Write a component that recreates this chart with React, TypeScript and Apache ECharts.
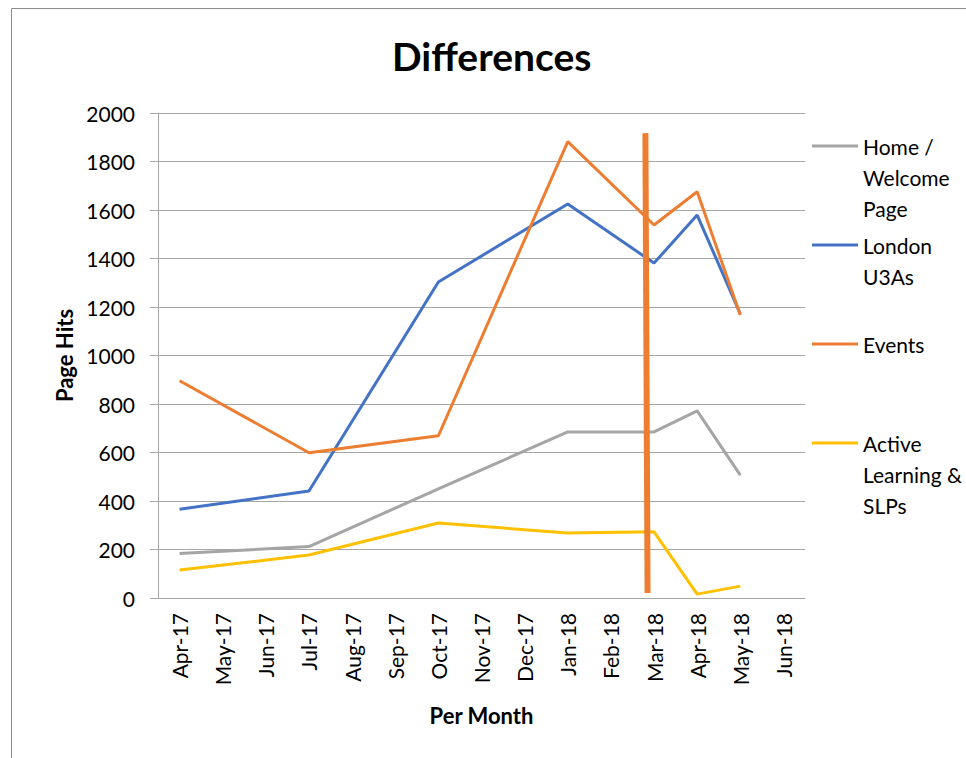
import React, { useEffect, useRef } from "react";
import * as echarts from "echarts";

const months = ["Apr-17", "May-17", "Jun-17", "Jul-17", "Aug-17", "Sep-17", "Oct-17", "Nov-17", "Dec-17", "Jan-18", "Feb-18", "Mar-18", "Apr-18", "May-18", "Jun-18"];
const homeWelcome = [183, null, null, 212, null, null, 450, null, null, 685, null, 685, 772, 507, null];
const londonU3As = [366, null, null, 441, null, null, 1303, null, null, 1625, null, 1381, 1579, 1172, null];
const events = [896, null, null, 599, null, null, 669, null, null, 1882, null, 1538, 1675, 1167, null];
const activeLearning = [115, null, null, 177, null, null, 309, null, null, 268, null, 273, 16, 49, null];
const markerLine = [[10.8, 1917], [10.85, 21]];
const yTicks = [0, 2000, 200];

const FONT = "Lato";

export default function App() {
  const ref = useRef<HTMLDivElement>(null);
  useEffect(() => {
    if (!ref.current) return;
    const chart = echarts.init(ref.current, null, { renderer: "svg" });
    const gridColor = "#a6a6a6";
    const legendBase = {
      orient: "vertical",
      left: 812,
      padding: 0,
      itemWidth: 46,
      itemHeight: 3,
      icon: "rect",
      textStyle: { fontFamily: FONT, fontSize: 21, color: "#000", lineHeight: 31 },
    };
    const option = {
      animation: false,
      backgroundColor: "#fff",
      title: {
        text: "Differences",
        left: 392,
        top: 36,
        padding: 0,
        textStyle: { fontFamily: FONT, fontWeight: "bold", fontSize: 39, color: "#000" },
      },
      graphic: [
        {
          type: "rect",
          shape: { x: 11.5, y: 8.5, width: 1000, height: 800 },
          style: { fill: "none", stroke: "#8c8c8c", lineWidth: 1 },
          silent: true,
        },
      ],
      legend: [
        { ...legendBase, top: 68.5, data: ["Home / Welcome Page"], formatter: () => "\n\nHome /\nWelcome\nPage" },
        { ...legendBase, top: 198.5, data: ["London U3As"], formatter: () => "\nLondon\nU3As" },
        { ...legendBase, top: 328.5, data: ["Events"], formatter: () => "Events" },
        { ...legendBase, top: 365.5, data: ["Active Learning & SLPs"], formatter: () => "\n\nActive\nLearning &\nSLPs" },
      ],
      grid: { left: 158, right: 161, top: 113, bottom: 160 },
      xAxis: [
        {
          type: "category",
          data: months,
          boundaryGap: true,
          name: "Per Month",
          nameLocation: "middle",
          nameGap: 106,
          nameTextStyle: { fontFamily: FONT, fontWeight: "bold", fontSize: 22, color: "#000", verticalAlign: "top" },
          axisLine: { show: true, onZero: false, lineStyle: { color: gridColor, width: 1 } },
          axisTick: { show: false },
          axisLabel: { rotate: 90, margin: 15, interval: 0, fontFamily: FONT, fontSize: 21, color: "#000" },
          splitLine: { show: false },
        },
        {
          type: "value",
          min: -0.5,
          max: 14.5,
          show: false,
          axisLine: { onZero: false },
        },
      ],
      yAxis: {
        type: "value",
        min: yTicks[0],
        max: yTicks[1],
        interval: yTicks[2],
        name: "Page Hits",
        nameLocation: "middle",
        nameGap: 79,
        nameTextStyle: { fontFamily: FONT, fontWeight: "bold", fontSize: 22, color: "#000" },
        axisLine: { show: true, onZero: false, lineStyle: { color: gridColor, width: 1 } },
        axisTick: { show: true, length: 8, lineStyle: { color: gridColor } },
        axisLabel: { margin: 23, fontFamily: FONT, fontSize: 21, color: "#000", formatter: (v: number) => String(v) },
        splitLine: { show: true, lineStyle: { color: gridColor, width: 1 } },
      },
      series: [
        { name: "Home / Welcome Page", type: "line", data: homeWelcome, connectNulls: true, showSymbol: false, symbol: "none", color: "#A5A5A5", lineStyle: { width: 3, color: "#A5A5A5" } },
        { name: "London U3As", type: "line", data: londonU3As, connectNulls: true, showSymbol: false, symbol: "none", color: "#4472C4", lineStyle: { width: 3, color: "#4472C4" } },
        { name: "Events", type: "line", data: events, connectNulls: true, showSymbol: false, symbol: "none", color: "#ED7D31", lineStyle: { width: 3, color: "#ED7D31" } },
        { name: "Active Learning & SLPs", type: "line", data: activeLearning, connectNulls: true, showSymbol: false, symbol: "none", color: "#FFC000", lineStyle: { width: 3, color: "#FFC000" } },
        { name: "marker", type: "line", xAxisIndex: 1, data: markerLine, showSymbol: false, symbol: "none", z: 10, color: "#ED7D31", lineStyle: { width: 6, color: "#ED7D31", cap: "butt" } },
      ],
    };
    chart.setOption(option as any);
    return () => chart.dispose();
  }, []);
  return <div ref={ref} style={{ position: "absolute", left: 0, top: 0, width: 966, height: 758 }} />;
}
